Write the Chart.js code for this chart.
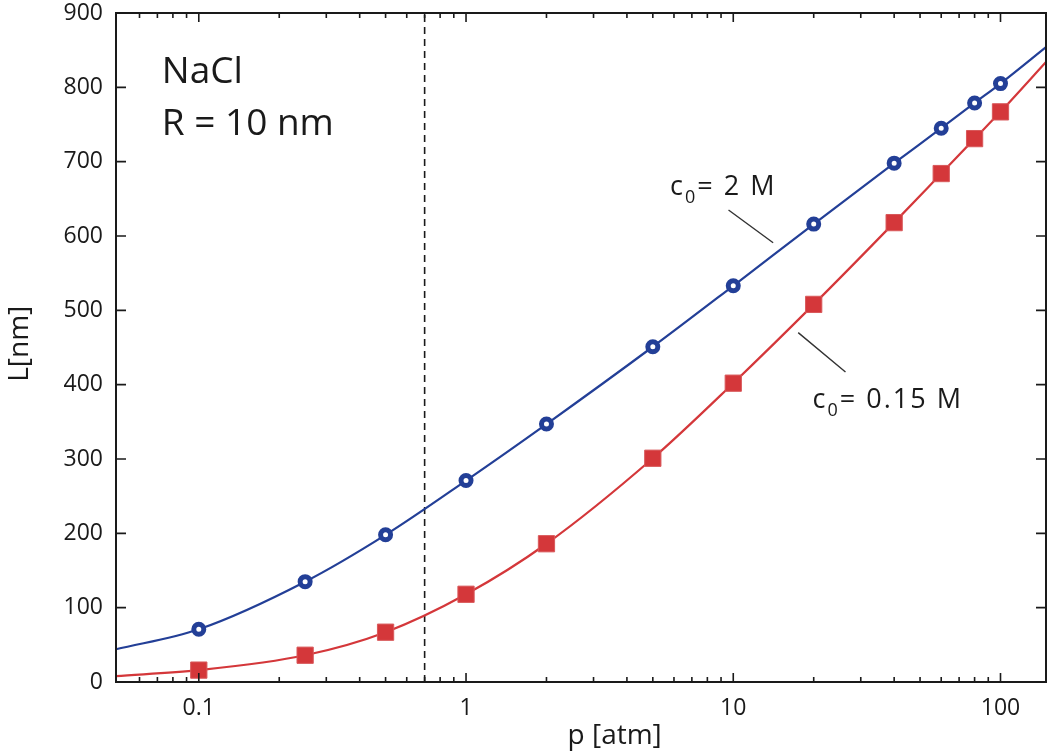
<!DOCTYPE html>
<html>
<head>
<meta charset="utf-8">
<title>L vs p</title>
<script src="https://cdn.jsdelivr.net/npm/chart.js@4.4.1/dist/chart.umd.min.js"></script>
<style>
  html, body { margin: 0; padding: 0; background: #fff; }
  #chart { display: block; }
</style>
</head>
<body>
<canvas id="chart" width="1050" height="752"></canvas>
<script>
// measured points (p in atm, L in nm)
const pressures = [0.1, 0.25, 0.5, 1, 2, 5, 10, 20, 40, 60, 80, 100];
const lengthHigh = [71, 135, 198, 271, 347, 451, 533, 616, 698, 745, 779, 805];   // c0 = 2 M
const lengthLow = [16, 36, 67, 118, 186, 301, 402, 508, 618, 684, 731, 767];      // c0 = 0.15 M

// where the fitted curves leave the frame
const edgePressures = [0.049, 148];
const edgeHigh = [44, 854];
const edgeLow = [8, 834];

const xTicks = [0.1, 1, 10, 100];
const yTicks = [0, 100, 200, 300, 400, 500, 600, 700, 800, 900];
const cutoffPressure = 0.7;

const blue = "#233f97";
const red = "#d4373a";
const ink = "#1a1a1a";
const font = "'Open Sans', 'Noto Sans', sans-serif";

function points(xs, ys) {
    return xs.map((x, i) => ({ x: x, y: ys[i] }));
}

function curve(ys, edges) {
    const pts = points(pressures, ys);
    pts.unshift({ x: edgePressures[0], y: edges[0] });
    pts.push({ x: edgePressures[1], y: edges[1] });
    return pts;
}

// minor ticks of the log axis
const minorTicks = [];
[0.01, 0.1, 1, 10].forEach(d => {
    for (let k = 2; k <= 9; k++) minorTicks.push(+(d * k).toPrecision(3));
});

function noPadding(scale) {
    scale.paddingLeft = 0;
    scale.paddingRight = 0;
    scale.paddingTop = 0;
    scale.paddingBottom = 0;
}

const frame = {
    id: "frame",
    beforeDatasetsDraw(chart) {
        const ctx = chart.ctx;
        const { top, bottom } = chart.chartArea;
        const px = chart.scales.x.getPixelForValue(cutoffPressure);
        ctx.save();
        ctx.strokeStyle = ink;
        ctx.lineWidth = 1.6;
        ctx.setLineDash([7, 5]);
        ctx.beginPath();
        ctx.moveTo(px, bottom);
        ctx.lineTo(px, top);
        ctx.stroke();
        ctx.restore();
    },
    afterDatasetsDraw(chart) {
        const ctx = chart.ctx;
        const { left, right, top, bottom } = chart.chartArea;
        const xs = chart.scales.x, ys = chart.scales.y;
        ctx.save();
        ctx.strokeStyle = ink;
        ctx.lineWidth = 2;
        ctx.strokeRect(left, top, right - left, bottom - top);

        ctx.lineWidth = 1.6;
        ctx.beginPath();
        xTicks.forEach(v => {
            const px = xs.getPixelForValue(v);
            ctx.moveTo(px, bottom); ctx.lineTo(px, bottom - 9);
            ctx.moveTo(px, top); ctx.lineTo(px, top + 9);
        });
        minorTicks.forEach(v => {
            const px = xs.getPixelForValue(v);
            if (px <= left + 4 || px >= right - 4) return;
            ctx.moveTo(px, bottom); ctx.lineTo(px, bottom - 5);
            ctx.moveTo(px, top); ctx.lineTo(px, top + 5);
        });
        yTicks.forEach(v => {
            const py = ys.getPixelForValue(v);
            ctx.moveTo(left, py); ctx.lineTo(left + 10, py);
            ctx.moveTo(right, py); ctx.lineTo(right - 10, py);
        });
        ctx.stroke();

        // leader lines
        ctx.lineWidth = 1.4;
        ctx.strokeStyle = "#333";
        ctx.beginPath();
        ctx.moveTo(xs.getPixelForValue(9.6), ys.getPixelForValue(635));
        ctx.lineTo(xs.getPixelForValue(14.1), ys.getPixelForValue(591));
        ctx.moveTo(xs.getPixelForValue(17.5), ys.getPixelForValue(470));
        ctx.lineTo(xs.getPixelForValue(26.3), ys.getPixelForValue(417));
        ctx.stroke();

        ctx.fillStyle = ink;
        ctx.textBaseline = "alphabetic";
        ctx.textAlign = "left";

        ctx.font = "37px " + font;
        ctx.fillText("NaCl", xs.getPixelForValue(0.0727), ys.getPixelForValue(806));
        ctx.fillText("R = 10 nm", xs.getPixelForValue(0.0727), ys.getPixelForValue(736));

        function conc(text, p, L) {
            let x = xs.getPixelForValue(p);
            const y = ys.getPixelForValue(L);
            ctx.letterSpacing = "2px";
            ctx.font = "27px " + font;
            ctx.fillText("c", x, y);
            x += ctx.measureText("c").width;
            ctx.font = "18px " + font;
            ctx.fillText("0", x, y + 8);
            x += ctx.measureText("0").width;
            ctx.font = "27px " + font;
            ctx.fillText(text, x, y);
            ctx.letterSpacing = "0px";
        }
        conc("= 2 M", 5.8, 655);
        conc("= 0.15 M", 19.8, 369);

        // axis titles
        ctx.font = "28px " + font;
        ctx.textAlign = "center";
        ctx.fillText("p [atm]", xs.getPixelForValue(3.6), bottom + 62);
        ctx.translate(left - 88, ys.getPixelForValue(455));
        ctx.rotate(-Math.PI / 2);
        ctx.fillText("L[nm]", 0, 0);
        ctx.restore();
    }
};

new Chart(document.getElementById("chart"), {
    type: "scatter",
    data: {
        datasets: [
            {
                label: "c0 = 2 M",
                data: points(pressures, lengthHigh),
                pointStyle: "circle",
                pointRadius: 5,
                pointBorderWidth: 5,
                borderColor: blue,
                backgroundColor: "#ffffff",
                order: 1
            },
            {
                label: "c0 = 0.15 M",
                data: points(pressures, lengthLow),
                pointStyle: "rect",
                pointRadius: 11.5,
                pointBorderWidth: 1,
                borderColor: "#d9595b",
                backgroundColor: red,
                order: 1
            },
            {
                label: "fit 2 M",
                data: curve(lengthHigh, edgeHigh),
                showLine: true,
                pointRadius: 0,
                borderColor: blue,
                borderWidth: 2.2,
                cubicInterpolationMode: "monotone",
                order: 2
            },
            {
                label: "fit 0.15 M",
                data: curve(lengthLow, edgeLow),
                showLine: true,
                pointRadius: 0,
                borderColor: red,
                borderWidth: 2.2,
                cubicInterpolationMode: "monotone",
                order: 2
            }
        ]
    },
    options: {
        responsive: false,
        animation: false,
        clip: false,
        layout: { autoPadding: false, padding: { top: 13, right: 4, left: 0, bottom: 0 } },
        plugins: {
            legend: { display: false },
            tooltip: { enabled: false }
        },
        scales: {
            x: {
                type: "logarithmic",
                min: edgePressures[0],
                max: edgePressures[1],
                grid: { display: false, drawTicks: false },
                border: { display: false },
                afterBuildTicks: scale => {
                    scale.ticks = xTicks.map(v => ({ value: v, major: true }));
                },
                afterFit: scale => { scale.height = 70; noPadding(scale); },
                ticks: {
                    autoSkip: false,
                    maxRotation: 0,
                    padding: 13,
                    color: ink,
                    font: { family: font, size: 23 },
                    callback: v => String(v)
                }
            },
            y: {
                min: 0,
                max: 900,
                grid: { display: false, drawTicks: false },
                border: { display: false },
                afterBuildTicks: scale => {
                    scale.ticks = yTicks.map(v => ({ value: v }));
                },
                afterFit: scale => { scale.width = 116; noPadding(scale); },
                ticks: {
                    padding: 13,
                    color: ink,
                    font: { family: font, size: 23 }
                }
            }
        }
    },
    plugins: [frame]
});
</script>
</body>
</html>
